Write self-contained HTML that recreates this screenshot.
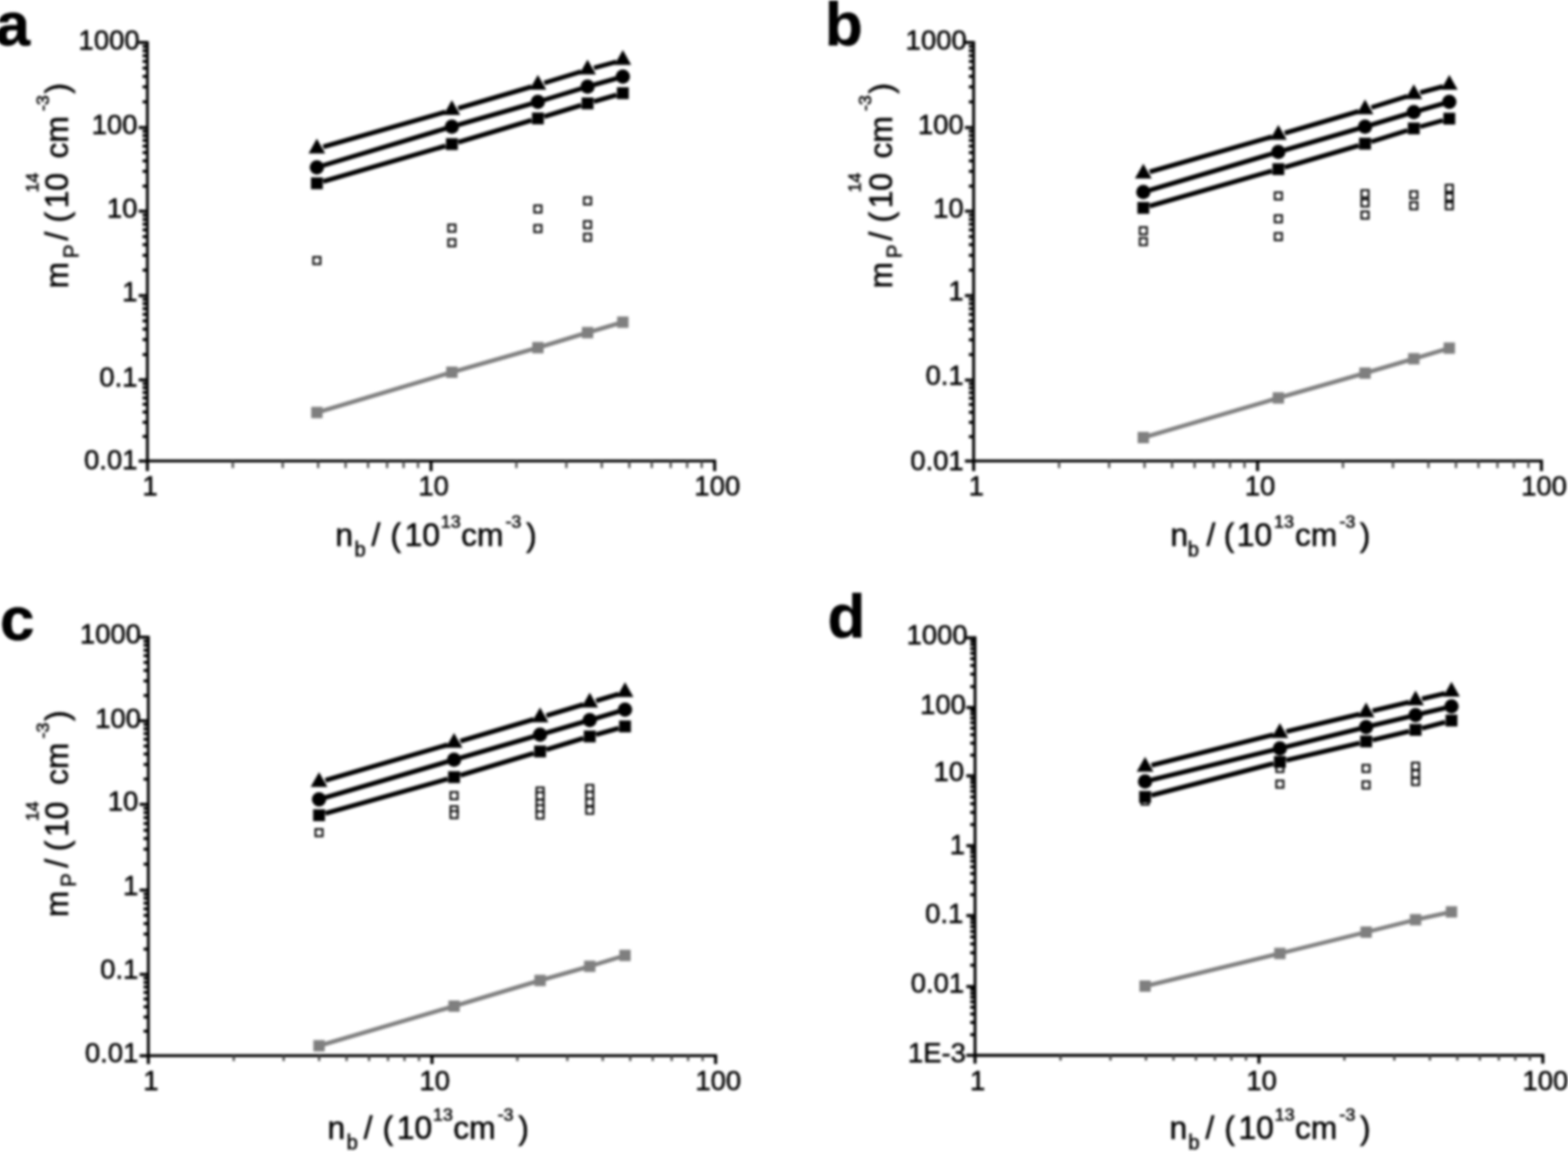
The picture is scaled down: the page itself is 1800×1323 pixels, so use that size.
<!DOCTYPE html>
<html lang="en"><head><meta charset="utf-8"><title>Figure: m_P versus n_b, panels a-d</title>
<style>
html,body{margin:0;padding:0;background:#fff;}
body{width:1800px;height:1323px;overflow:hidden;}
svg{display:block;}
text{font-family:"Liberation Sans", Arial, Helvetica, sans-serif;fill:#000;stroke:#000;stroke-width:0.6px;white-space:pre;}
.ax{stroke:#000;stroke-width:3.3;fill:none;}
.tk{stroke:#000;stroke-width:3.5;fill:none;}
.tx{stroke:#4a4a4a;stroke-width:2.6;fill:none;}
.tl{font-size:31.5px;}
.al{font-size:36.5px;}
.ss{font-size:23px;}
.sp{font-size:20.5px;}
.pl{font-size:71px;font-weight:bold;}
.bl{stroke:#000;stroke-width:5.4;fill:none;}
.gl{stroke:#7f7f7f;stroke-width:4.8;fill:none;}
.bm{fill:#000;}
.gs{fill:#7f7f7f;}
.os{fill:#fff;stroke:#000;stroke-width:2.15;}
#fig{filter:blur(1.4px);}
</style></head><body>
<svg width="1800" height="1323" viewBox="0 0 1800 1323">
<rect width="1800" height="1323" fill="#fff"/>
<g id="fig">
<g id="panel-a">
<text class="pl" x="-4.9" y="51.5">a</text>
<path class="ax" d="M169.2 47.35V531.05M167.55 529.4H822.05"/>
<path class="tk" d="M169.2 48.8H159.2M169.2 117.02H163.7M169.2 99.83H163.7M169.2 87.64H163.7M169.2 78.18H163.7M169.2 70.45H163.7M169.2 63.92H163.7M169.2 58.26H163.7M169.2 53.27H163.7M169.2 146.4H159.2M169.2 213.64H163.7M169.2 196.7H163.7M169.2 184.68H163.7M169.2 175.36H163.7M169.2 167.74H163.7M169.2 161.3H163.7M169.2 155.72H163.7M169.2 150.8H163.7M169.2 242.6H159.2M169.2 310.26H163.7M169.2 293.21H163.7M169.2 281.12H163.7M169.2 271.74H163.7M169.2 264.07H163.7M169.2 257.59H163.7M169.2 251.98H163.7M169.2 247.03H163.7M169.2 339.4H159.2M169.2 407.13H163.7M169.2 390.07H163.7M169.2 377.96H163.7M169.2 368.57H163.7M169.2 360.9H163.7M169.2 354.41H163.7M169.2 348.79H163.7M169.2 343.83H163.7M169.2 436.3H159.2M169.2 501.37H163.7M169.2 484.98H163.7M169.2 473.35H163.7M169.2 464.33H163.7M169.2 456.95H163.7M169.2 450.72H163.7M169.2 445.32H163.7M169.2 440.56H163.7M169.2 529.4H159.2"/>
<path class="tk" d="M169.2 529.4V540.9M494.8 529.4V540.9M820.4 529.4V540.9"/>
<path class="tx" d="M267.22 529.4V537.4M324.55 529.4V537.4M365.23 529.4V537.4M396.78 529.4V537.4M422.57 529.4V537.4M444.36 529.4V537.4M463.25 529.4V537.4M479.9 529.4V537.4M592.82 529.4V537.4M650.15 529.4V537.4M690.83 529.4V537.4M722.38 529.4V537.4M748.17 529.4V537.4M769.96 529.4V537.4M788.85 529.4V537.4M805.5 529.4V537.4"/>
<text class="tl" text-anchor="end" x="160.2" y="57.1">1000</text>
<text class="tl" text-anchor="end" x="157.7" y="153.98">100</text>
<text class="tl" text-anchor="end" x="157.7" y="250.06">10</text>
<text class="tl" text-anchor="end" x="157.7" y="346.14">1</text>
<text class="tl" text-anchor="end" x="157.7" y="444.12">0.1</text>
<text class="tl" text-anchor="end" x="157.7" y="539.3">0.01</text>
<text class="tl" text-anchor="middle" x="172.2" y="569.2">1</text>
<text class="tl" text-anchor="middle" x="497.8" y="569.2">10</text>
<text class="tl" text-anchor="middle" x="823.4" y="569.2">100</text>
<rect class="os" x="359.65" y="295.15" width="8.2" height="8.2"/>
<rect class="os" x="514.65" y="257.9" width="8.2" height="8.2"/>
<rect class="os" x="514.65" y="274.65" width="8.2" height="8.2"/>
<rect class="os" x="613.4" y="235.9" width="8.2" height="8.2"/>
<rect class="os" x="613.4" y="258.4" width="8.2" height="8.2"/>
<rect class="os" x="670.4" y="226.65" width="8.2" height="8.2"/>
<rect class="os" x="670.4" y="253.9" width="8.2" height="8.2"/>
<rect class="os" x="670.4" y="268.4" width="8.2" height="8.2"/>
<path class="gl" d="M367.58 472.61L514.92 428.64M522.6 426.4L613.65 400.35M621.33 398.09L670.67 383.16M678.34 380.86L711.16 371.14"/>
<rect class="gs" x="357.25" y="467.25" width="13" height="13"/>
<rect class="gs" x="512.25" y="421" width="13" height="13"/>
<rect class="gs" x="611" y="392.75" width="13" height="13"/>
<rect class="gs" x="668" y="375.5" width="13" height="13"/>
<rect class="gs" x="708.5" y="363.5" width="13" height="13"/>
<path class="bl" d="M371.05 208.38L511.45 167.62M526.03 163.32L610.22 138.18M624.77 133.8L667.23 120.95M681.8 116.63L707.7 109.12"/>
<path class="bl" d="M371.03 190.01L511.47 147.69M526.05 143.39L610.2 119.11M624.77 114.77L667.23 101.73M681.81 97.42L707.69 90.08"/>
<path class="bl" d="M371.06 168.66L511.44 128.59M526.04 124.36L610.21 99.64M624.77 95.27L667.23 82.23M681.83 78.01L707.67 70.99"/>
<rect class="bm" x="356.95" y="203.7" width="13.6" height="13.6"/>
<rect class="bm" x="511.95" y="158.7" width="13.6" height="13.6"/>
<rect class="bm" x="610.7" y="129.2" width="13.6" height="13.6"/>
<rect class="bm" x="667.7" y="111.95" width="13.6" height="13.6"/>
<rect class="bm" x="708.2" y="100.2" width="13.6" height="13.6"/>
<circle class="bm" cx="363.75" cy="192.2" r="8.2"/>
<circle class="bm" cx="518.75" cy="145.5" r="8.2"/>
<circle class="bm" cx="617.5" cy="117" r="8.2"/>
<circle class="bm" cx="674.5" cy="99.5" r="8.2"/>
<circle class="bm" cx="715" cy="88" r="8.2"/>
<path class="bm" d="M363.75 159.15L373.35 176.35L354.15 176.35Z"/>
<path class="bm" d="M518.75 114.9L528.35 132.1L509.15 132.1Z"/>
<path class="bm" d="M617.5 85.9L627.1 103.1L607.9 103.1Z"/>
<path class="bm" d="M674.5 68.4L684.1 85.6L664.9 85.6Z"/>
<path class="bm" d="M715 57.4L724.6 74.6L705.4 74.6Z"/>
<text class="al" x="385.1" y="626.8"><tspan x="385.1" y="626.8">n</tspan><tspan class="ss" x="407" y="638.8">b</tspan><tspan x="426.5" y="626.8">/</tspan><tspan x="448.2" y="626.8">(</tspan><tspan x="464.5" y="626.8">10</tspan><tspan class="sp" x="506" y="605.8">13</tspan><tspan x="529.2" y="626.8">cm</tspan><tspan class="sp" x="580.3" y="605.8">-3</tspan><tspan x="604" y="626.8">)</tspan></text>
<text class="al" transform="translate(78 331) rotate(-90)"><tspan x="-0.2" y="0">m</tspan><tspan class="ss" x="34.8" y="11.8">P</tspan><tspan x="54.8" y="0">/</tspan><tspan x="75.6" y="0">(</tspan><tspan x="91.8" y="0">10</tspan><tspan class="sp" x="109.9" y="-34">14</tspan><tspan x="149.1" y="0">cm</tspan><tspan class="sp" x="203.5" y="-21.6">-3</tspan><tspan x="223.4" y="0">)</tspan></text>
</g>
<g id="panel-b">
<text class="pl" x="947.1" y="51.5">b</text>
<path class="ax" d="M1117.7 47.35V531.05M1116.05 529.4H1771.15"/>
<path class="tk" d="M1117.7 48.8H1107.7M1117.7 117.02H1112.2M1117.7 99.83H1112.2M1117.7 87.64H1112.2M1117.7 78.18H1112.2M1117.7 70.45H1112.2M1117.7 63.92H1112.2M1117.7 58.26H1112.2M1117.7 53.27H1112.2M1117.7 146.4H1107.7M1117.7 213.64H1112.2M1117.7 196.7H1112.2M1117.7 184.68H1112.2M1117.7 175.36H1112.2M1117.7 167.74H1112.2M1117.7 161.3H1112.2M1117.7 155.72H1112.2M1117.7 150.8H1112.2M1117.7 242.6H1107.7M1117.7 310.26H1112.2M1117.7 293.21H1112.2M1117.7 281.12H1112.2M1117.7 271.74H1112.2M1117.7 264.07H1112.2M1117.7 257.59H1112.2M1117.7 251.98H1112.2M1117.7 247.03H1112.2M1117.7 339.4H1107.7M1117.7 407.34H1112.2M1117.7 390.22H1112.2M1117.7 378.08H1112.2M1117.7 368.66H1112.2M1117.7 360.96H1112.2M1117.7 354.46H1112.2M1117.7 348.82H1112.2M1117.7 343.85H1112.2M1117.7 436.6H1107.7M1117.7 501.46H1112.2M1117.7 485.12H1112.2M1117.7 473.53H1112.2M1117.7 464.54H1112.2M1117.7 457.19H1112.2M1117.7 450.97H1112.2M1117.7 445.59H1112.2M1117.7 440.85H1112.2M1117.7 529.4H1107.7"/>
<path class="tk" d="M1117.7 529.4V540.9M1443.6 529.4V540.9M1769.5 529.4V540.9"/>
<path class="tx" d="M1215.81 529.4V537.4M1273.19 529.4V537.4M1313.91 529.4V537.4M1345.49 529.4V537.4M1371.3 529.4V537.4M1393.12 529.4V537.4M1412.02 529.4V537.4M1428.69 529.4V537.4M1541.71 529.4V537.4M1599.09 529.4V537.4M1639.81 529.4V537.4M1671.39 529.4V537.4M1697.2 529.4V537.4M1719.02 529.4V537.4M1737.92 529.4V537.4M1754.59 529.4V537.4"/>
<text class="tl" text-anchor="end" x="1109.7" y="56.9">1000</text>
<text class="tl" text-anchor="end" x="1106.2" y="153.98">100</text>
<text class="tl" text-anchor="end" x="1106.2" y="250.06">10</text>
<text class="tl" text-anchor="end" x="1106.2" y="345.14">1</text>
<text class="tl" text-anchor="end" x="1106.2" y="442.22">0.1</text>
<text class="tl" text-anchor="end" x="1106.2" y="539.5">0.01</text>
<text class="tl" text-anchor="middle" x="1120.7" y="569.2">1</text>
<text class="tl" text-anchor="middle" x="1446.6" y="569.2">10</text>
<text class="tl" text-anchor="middle" x="1772.5" y="569.2">100</text>
<rect class="os" x="1308.4" y="260.9" width="8.2" height="8.2"/>
<rect class="os" x="1308.4" y="273.4" width="8.2" height="8.2"/>
<rect class="os" x="1463.4" y="220.9" width="8.2" height="8.2"/>
<rect class="os" x="1463.4" y="247.15" width="8.2" height="8.2"/>
<rect class="os" x="1463.4" y="267.65" width="8.2" height="8.2"/>
<rect class="os" x="1562.9" y="218.4" width="8.2" height="8.2"/>
<rect class="os" x="1562.9" y="228.9" width="8.2" height="8.2"/>
<rect class="os" x="1562.9" y="242.9" width="8.2" height="8.2"/>
<rect class="os" x="1618.9" y="219.65" width="8.2" height="8.2"/>
<rect class="os" x="1618.9" y="232.15" width="8.2" height="8.2"/>
<rect class="os" x="1659.65" y="212.15" width="8.2" height="8.2"/>
<rect class="os" x="1659.65" y="222.15" width="8.2" height="8.2"/>
<rect class="os" x="1659.65" y="232.15" width="8.2" height="8.2"/>
<path class="gl" d="M1316.34 501.37L1463.66 458.13M1471.35 455.9L1563.15 429.6M1570.84 427.37L1619.16 413.13M1626.83 410.85L1659.92 400.95"/>
<rect class="gs" x="1306" y="496" width="13" height="13"/>
<rect class="gs" x="1461" y="450.5" width="13" height="13"/>
<rect class="gs" x="1560.5" y="422" width="13" height="13"/>
<rect class="gs" x="1616.5" y="405.5" width="13" height="13"/>
<rect class="gs" x="1657.25" y="393.3" width="13" height="13"/>
<path class="bl" d="M1319.8 236.65L1460.2 196.35M1474.79 192.11L1559.71 167.14M1574.25 162.73L1615.75 149.77M1630.33 145.48L1656.42 138.27"/>
<path class="bl" d="M1319.79 218.34L1460.21 176.66M1474.8 172.37L1559.7 147.63M1574.28 143.32L1615.72 130.93M1630.3 126.64L1656.45 119.11"/>
<path class="bl" d="M1319.8 197.4L1460.2 157.1M1474.79 152.86L1559.71 127.89M1574.25 123.48L1615.75 110.52M1630.35 106.31L1656.4 99.44"/>
<rect class="bm" x="1305.7" y="231.95" width="13.6" height="13.6"/>
<rect class="bm" x="1460.7" y="187.45" width="13.6" height="13.6"/>
<rect class="bm" x="1560.2" y="158.2" width="13.6" height="13.6"/>
<rect class="bm" x="1616.2" y="140.7" width="13.6" height="13.6"/>
<rect class="bm" x="1656.95" y="129.45" width="13.6" height="13.6"/>
<circle class="bm" cx="1312.5" cy="220.5" r="8.2"/>
<circle class="bm" cx="1467.5" cy="174.5" r="8.2"/>
<circle class="bm" cx="1567" cy="145.5" r="8.2"/>
<circle class="bm" cx="1623" cy="128.75" r="8.2"/>
<circle class="bm" cx="1663.75" cy="117" r="8.2"/>
<path class="bm" d="M1312.5 187.9L1322.1 205.1L1302.9 205.1Z"/>
<path class="bm" d="M1467.5 143.4L1477.1 160.6L1457.9 160.6Z"/>
<path class="bm" d="M1567 114.15L1576.6 131.35L1557.4 131.35Z"/>
<path class="bm" d="M1623 96.65L1632.6 113.85L1613.4 113.85Z"/>
<path class="bm" d="M1663.75 85.9L1673.35 103.1L1654.15 103.1Z"/>
<text class="al" x="1343.6" y="626.8"><tspan x="1343.6" y="626.8">n</tspan><tspan class="ss" x="1363.5" y="638.8">b</tspan><tspan x="1385" y="626.8">/</tspan><tspan x="1404.7" y="626.8">(</tspan><tspan x="1419.8" y="626.8">10</tspan><tspan class="sp" x="1462.5" y="605.8">13</tspan><tspan x="1486.5" y="626.8">cm</tspan><tspan class="sp" x="1537.8" y="605.8">-3</tspan><tspan x="1561" y="626.8">)</tspan></text>
<text class="al" transform="translate(1023.5 331) rotate(-90)"><tspan x="-0.2" y="0">m</tspan><tspan class="ss" x="34.8" y="11.8">P</tspan><tspan x="54.8" y="0">/</tspan><tspan x="75.6" y="0">(</tspan><tspan x="91.8" y="0">10</tspan><tspan class="sp" x="109.9" y="-35.5">14</tspan><tspan x="149.1" y="0">cm</tspan><tspan class="sp" x="203.5" y="-23.1">-3</tspan><tspan x="223.4" y="0">)</tspan></text>
</g>
<g id="panel-c">
<text class="pl" x="-0.1" y="735">c</text>
<path class="ax" d="M170.3 730.15V1214.05M168.65 1212.4H823.15"/>
<path class="tk" d="M170.3 731.8H160.3M170.3 798.83H164.8M170.3 781.94H164.8M170.3 769.96H164.8M170.3 760.67H164.8M170.3 753.08H164.8M170.3 746.66H164.8M170.3 741.09H164.8M170.3 736.19H164.8M170.3 827.7H160.3M170.3 894.87H164.8M170.3 877.95H164.8M170.3 865.94H164.8M170.3 856.63H164.8M170.3 849.02H164.8M170.3 842.59H164.8M170.3 837.01H164.8M170.3 832.1H164.8M170.3 923.8H160.3M170.3 992.58H164.8M170.3 975.25H164.8M170.3 962.96H164.8M170.3 953.42H164.8M170.3 945.63H164.8M170.3 939.04H164.8M170.3 933.34H164.8M170.3 928.3H164.8M170.3 1022.2H160.3M170.3 1089.93H164.8M170.3 1072.87H164.8M170.3 1060.76H164.8M170.3 1051.37H164.8M170.3 1043.7H164.8M170.3 1037.21H164.8M170.3 1031.59H164.8M170.3 1026.63H164.8M170.3 1119.1H160.3M170.3 1184.31H164.8M170.3 1167.88H164.8M170.3 1156.23H164.8M170.3 1147.19H164.8M170.3 1139.8H164.8M170.3 1133.55H164.8M170.3 1128.14H164.8M170.3 1123.37H164.8M170.3 1212.4H160.3"/>
<path class="tk" d="M170.3 1212.4V1221.9M495.9 1212.4V1221.9M821.5 1212.4V1221.9"/>
<path class="tx" d="M268.32 1212.4V1218.4M325.65 1212.4V1218.4M366.33 1212.4V1218.4M397.88 1212.4V1218.4M423.67 1212.4V1218.4M445.46 1212.4V1218.4M464.35 1212.4V1218.4M481 1212.4V1218.4M593.92 1212.4V1218.4M651.25 1212.4V1218.4M691.93 1212.4V1218.4M723.48 1212.4V1218.4M749.27 1212.4V1218.4M771.06 1212.4V1218.4M789.95 1212.4V1218.4M806.6 1212.4V1218.4"/>
<text class="tl" text-anchor="end" x="161.8" y="739.2">1000</text>
<text class="tl" text-anchor="end" x="161.8" y="835.82">100</text>
<text class="tl" text-anchor="end" x="158.8" y="931.44">10</text>
<text class="tl" text-anchor="end" x="158.8" y="1027.56">1</text>
<text class="tl" text-anchor="end" x="158.8" y="1123.68">0.1</text>
<text class="tl" text-anchor="end" x="158.8" y="1220.3">0.01</text>
<text class="tl" text-anchor="middle" x="173.3" y="1252.2">1</text>
<text class="tl" text-anchor="middle" x="498.9" y="1252.2">10</text>
<text class="tl" text-anchor="middle" x="824.5" y="1252.2">100</text>
<rect class="os" x="362.15" y="952.15" width="8.2" height="8.2"/>
<rect class="os" x="517.15" y="909.65" width="8.2" height="8.2"/>
<rect class="os" x="517.15" y="925.9" width="8.2" height="8.2"/>
<rect class="os" x="517.15" y="931.4" width="8.2" height="8.2"/>
<rect class="os" x="615.9" y="904.4" width="8.2" height="8.2"/>
<rect class="os" x="615.9" y="909.9" width="8.2" height="8.2"/>
<rect class="os" x="615.9" y="918.4" width="8.2" height="8.2"/>
<rect class="os" x="615.9" y="924.65" width="8.2" height="8.2"/>
<rect class="os" x="615.9" y="931.9" width="8.2" height="8.2"/>
<rect class="os" x="672.9" y="901.4" width="8.2" height="8.2"/>
<rect class="os" x="672.9" y="909.4" width="8.2" height="8.2"/>
<rect class="os" x="672.9" y="917.4" width="8.2" height="8.2"/>
<rect class="os" x="672.9" y="926.4" width="8.2" height="8.2"/>
<path class="gl" d="M370.09 1199.87L517.41 1156.63M525.08 1154.36L616.17 1127.14M623.85 1124.9L673.15 1110.85M680.82 1108.57L713.68 1098.43"/>
<rect class="gs" x="359.75" y="1194.5" width="13" height="13"/>
<rect class="gs" x="514.75" y="1149" width="13" height="13"/>
<rect class="gs" x="613.5" y="1119.5" width="13" height="13"/>
<rect class="gs" x="670.5" y="1103.25" width="13" height="13"/>
<rect class="gs" x="711" y="1090.75" width="13" height="13"/>
<path class="bl" d="M373.56 934.19L513.94 894.56M528.53 890.32L612.72 865.18M627.27 860.8L669.73 847.95M684.31 843.67L710.19 836.33"/>
<path class="bl" d="M373.54 915.86L513.96 874.64M528.55 870.38L612.7 845.87M627.29 841.61L669.71 829.14M684.29 824.84L710.21 817.16"/>
<path class="bl" d="M373.55 896.13L513.95 855.37M528.54 851.09L612.71 826.16M627.28 821.83L669.72 809.17M684.29 804.84L710.21 797.16"/>
<rect class="bm" x="359.45" y="929.45" width="13.6" height="13.6"/>
<rect class="bm" x="514.45" y="885.7" width="13.6" height="13.6"/>
<rect class="bm" x="613.2" y="856.2" width="13.6" height="13.6"/>
<rect class="bm" x="670.2" y="838.95" width="13.6" height="13.6"/>
<rect class="bm" x="710.7" y="827.45" width="13.6" height="13.6"/>
<circle class="bm" cx="366.25" cy="918" r="8.2"/>
<circle class="bm" cx="521.25" cy="872.5" r="8.2"/>
<circle class="bm" cx="620" cy="843.75" r="8.2"/>
<circle class="bm" cx="677" cy="827" r="8.2"/>
<circle class="bm" cx="717.5" cy="815" r="8.2"/>
<path class="bm" d="M366.25 886.65L375.85 903.85L356.65 903.85Z"/>
<path class="bm" d="M521.25 841.65L530.85 858.85L511.65 858.85Z"/>
<path class="bm" d="M620 812.4L629.6 829.6L610.4 829.6Z"/>
<path class="bm" d="M677 795.4L686.6 812.6L667.4 812.6Z"/>
<path class="bm" d="M717.5 783.4L727.1 800.6L707.9 800.6Z"/>
<text class="al" x="376.1" y="1308.2"><tspan x="376.1" y="1308.2">n</tspan><tspan class="ss" x="398" y="1320.2">b</tspan><tspan x="417.5" y="1308.2">/</tspan><tspan x="439.2" y="1308.2">(</tspan><tspan x="455.5" y="1308.2">10</tspan><tspan class="sp" x="497" y="1287.2">13</tspan><tspan x="520.2" y="1308.2">cm</tspan><tspan class="sp" x="571.3" y="1287.2">-3</tspan><tspan x="595" y="1308.2">)</tspan></text>
<text class="al" transform="translate(78 1053) rotate(-90)"><tspan x="-0.2" y="0">m</tspan><tspan class="ss" x="34.8" y="8.5">P</tspan><tspan x="56.6" y="0">/</tspan><tspan x="75.6" y="0">(</tspan><tspan x="91.8" y="0">10</tspan><tspan class="sp" x="109.9" y="-34">14</tspan><tspan x="151.5" y="0">cm</tspan><tspan class="sp" x="205" y="-21.6">-3</tspan><tspan x="225.1" y="0">)</tspan></text>
</g>
<g id="panel-d">
<text class="pl" x="950" y="732">d</text>
<path class="ax" d="M1119.3 730.85V1213.65M1117.65 1212H1772.75"/>
<path class="tk" d="M1119.3 732.5H1109.3M1119.3 788.42H1113.8M1119.3 774.33H1113.8M1119.3 764.34H1113.8M1119.3 756.58H1113.8M1119.3 750.25H1113.8M1119.3 744.89H1113.8M1119.3 740.25H1113.8M1119.3 736.16H1113.8M1119.3 812.5H1109.3M1119.3 867.37H1113.8M1119.3 853.55H1113.8M1119.3 843.74H1113.8M1119.3 836.13H1113.8M1119.3 829.92H1113.8M1119.3 824.66H1113.8M1119.3 820.11H1113.8M1119.3 816.09H1113.8M1119.3 891H1109.3M1119.3 947.06H1113.8M1119.3 932.93H1113.8M1119.3 922.91H1113.8M1119.3 915.14H1113.8M1119.3 908.79H1113.8M1119.3 903.42H1113.8M1119.3 898.77H1113.8M1119.3 894.67H1113.8M1119.3 971.2H1109.3M1119.3 1027.4H1113.8M1119.3 1013.24H1113.8M1119.3 1003.19H1113.8M1119.3 995.4H1113.8M1119.3 989.04H1113.8M1119.3 983.65H1113.8M1119.3 978.99H1113.8M1119.3 974.88H1113.8M1119.3 1051.6H1109.3M1119.3 1108.5H1113.8M1119.3 1094.16H1113.8M1119.3 1083.99H1113.8M1119.3 1076.1H1113.8M1119.3 1069.66H1113.8M1119.3 1064.21H1113.8M1119.3 1059.49H1113.8M1119.3 1055.32H1113.8M1119.3 1133H1109.3M1119.3 1188.22H1113.8M1119.3 1174.31H1113.8M1119.3 1164.44H1113.8M1119.3 1156.78H1113.8M1119.3 1150.53H1113.8M1119.3 1145.24H1113.8M1119.3 1140.66H1113.8M1119.3 1136.61H1113.8M1119.3 1212H1109.3"/>
<path class="tk" d="M1119.3 1212V1221.5M1445.2 1212V1221.5M1771.1 1212V1221.5"/>
<path class="tx" d="M1217.41 1212V1218M1274.79 1212V1218M1315.51 1212V1218M1347.09 1212V1218M1372.9 1212V1218M1394.72 1212V1218M1413.62 1212V1218M1430.29 1212V1218M1543.31 1212V1218M1600.69 1212V1218M1641.41 1212V1218M1672.99 1212V1218M1698.8 1212V1218M1720.62 1212V1218M1739.52 1212V1218M1756.19 1212V1218"/>
<text class="tl" text-anchor="end" x="1110.8" y="739.6">1000</text>
<text class="tl" text-anchor="end" x="1108.8" y="819.72">100</text>
<text class="tl" text-anchor="end" x="1106.8" y="897.23">10</text>
<text class="tl" text-anchor="end" x="1107.8" y="981.15">1</text>
<text class="tl" text-anchor="end" x="1105.8" y="1060.27">0.1</text>
<text class="tl" text-anchor="end" x="1106.8" y="1140.38">0.01</text>
<text class="tl" text-anchor="end" x="1108.8" y="1219.7">1E-3</text>
<text class="tl" text-anchor="middle" x="1122.3" y="1251.8">1</text>
<text class="tl" text-anchor="middle" x="1448.2" y="1251.8">10</text>
<text class="tl" text-anchor="middle" x="1774.1" y="1251.8">100</text>
<rect class="os" x="1310.4" y="915.9" width="8.2" height="8.2"/>
<rect class="os" x="1465.15" y="878.4" width="8.2" height="8.2"/>
<rect class="os" x="1465.15" y="896.4" width="8.2" height="8.2"/>
<rect class="os" x="1564.15" y="878.4" width="8.2" height="8.2"/>
<rect class="os" x="1564.15" y="897.4" width="8.2" height="8.2"/>
<rect class="os" x="1620.9" y="875.9" width="8.2" height="8.2"/>
<rect class="os" x="1620.9" y="884.65" width="8.2" height="8.2"/>
<rect class="os" x="1620.9" y="893.4" width="8.2" height="8.2"/>
<path class="gl" d="M1318.39 1131.56L1465.36 1095.94M1473.13 1094.04L1564.37 1071.46M1572.13 1069.53L1621.12 1057.22M1628.91 1055.4L1662.34 1048.1"/>
<rect class="gs" x="1308" y="1126" width="13" height="13"/>
<rect class="gs" x="1462.75" y="1088.5" width="13" height="13"/>
<rect class="gs" x="1561.75" y="1064" width="13" height="13"/>
<rect class="gs" x="1618.5" y="1049.75" width="13" height="13"/>
<rect class="gs" x="1659.75" y="1040.75" width="13" height="13"/>
<path class="bl" d="M1321.86 913.29L1461.89 876.91M1476.64 873.24L1560.86 853.26M1575.65 849.77L1617.6 839.93M1632.36 836.29L1658.89 829.41"/>
<path class="bl" d="M1321.88 895.69L1461.87 861.31M1476.63 857.67L1560.87 836.83M1575.64 833.21L1617.61 823.04M1632.39 819.46L1658.86 813.04"/>
<path class="bl" d="M1321.87 878.9L1461.88 843.85M1476.64 840.23L1560.86 820.02M1575.64 816.46L1617.61 806.29M1632.39 802.71L1658.86 796.29"/>
<rect class="bm" x="1307.7" y="908.4" width="13.6" height="13.6"/>
<rect class="bm" x="1462.45" y="868.2" width="13.6" height="13.6"/>
<rect class="bm" x="1561.45" y="844.7" width="13.6" height="13.6"/>
<rect class="bm" x="1618.2" y="831.4" width="13.6" height="13.6"/>
<rect class="bm" x="1659.45" y="820.7" width="13.6" height="13.6"/>
<circle class="bm" cx="1314.5" cy="897.5" r="8.2"/>
<circle class="bm" cx="1469.25" cy="859.5" r="8.2"/>
<circle class="bm" cx="1568.25" cy="835" r="8.2"/>
<circle class="bm" cx="1625" cy="821.25" r="8.2"/>
<circle class="bm" cx="1666.25" cy="811.25" r="8.2"/>
<path class="bm" d="M1314.5 869.15L1324.1 886.35L1304.9 886.35Z"/>
<path class="bm" d="M1469.25 830.4L1478.85 847.6L1459.65 847.6Z"/>
<path class="bm" d="M1568.25 806.65L1577.85 823.85L1558.65 823.85Z"/>
<path class="bm" d="M1625 792.9L1634.6 810.1L1615.4 810.1Z"/>
<path class="bm" d="M1666.25 782.9L1675.85 800.1L1656.65 800.1Z"/>
<text class="al" x="1342.4" y="1307.5"><tspan x="1342.4" y="1307.5">n</tspan><tspan class="ss" x="1364.3" y="1319.5">b</tspan><tspan x="1383.8" y="1307.5">/</tspan><tspan x="1405.5" y="1307.5">(</tspan><tspan x="1421.8" y="1307.5">10</tspan><tspan class="sp" x="1463.3" y="1286.5">13</tspan><tspan x="1486.5" y="1307.5">cm</tspan><tspan class="sp" x="1537.6" y="1286.5">-3</tspan><tspan x="1561.3" y="1307.5">)</tspan></text>
</g>
</g></svg></body></html>
